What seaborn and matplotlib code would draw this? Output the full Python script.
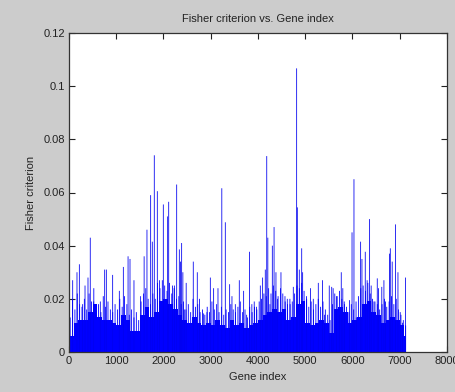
import numpy as np
import matplotlib
matplotlib.use("Agg")
import matplotlib.pyplot as plt
import seaborn as sns
from matplotlib.ticker import FuncFormatter

# ---- data ----
n_genes = 7129

# solid lower envelope, one value per 100 genes
base_idx = list(range(0, 7200, 100))
base_val = [0.006, 0.011, 0.012, 0.012, 0.015, 0.018, 0.013, 0.012, 0.012, 0.011,
            0.010, 0.014, 0.012, 0.008, 0.008, 0.014, 0.017, 0.013, 0.015, 0.019,
            0.020, 0.018, 0.016, 0.014, 0.012, 0.011, 0.013, 0.011, 0.010, 0.011,
            0.010, 0.012, 0.010, 0.009, 0.012, 0.010, 0.011, 0.009, 0.010, 0.011,
            0.012, 0.014, 0.015, 0.016, 0.015, 0.016, 0.012, 0.013, 0.018, 0.019,
            0.011, 0.010, 0.011, 0.012, 0.011, 0.007, 0.016, 0.017, 0.015, 0.011,
            0.012, 0.013, 0.018, 0.019, 0.015, 0.014, 0.011, 0.012, 0.013, 0.012,
            0.010, 0.006]

# dense thin lines above the solid part, one value per 50 genes
mid_idx = list(range(25, 7129, 50))
mid_val = [0.013, 0.020, 0.016, 0.022, 0.018, 0.017, 0.020, 0.016, 0.022, 0.019,
           0.024, 0.017, 0.018, 0.015, 0.021, 0.017, 0.019, 0.016, 0.015, 0.018,
           0.016, 0.020, 0.017, 0.021, 0.018, 0.014, 0.016, 0.013, 0.015, 0.012,
           0.019, 0.022, 0.024, 0.020, 0.018, 0.022, 0.020, 0.026, 0.024, 0.027,
           0.025, 0.023, 0.026, 0.022, 0.024, 0.020, 0.021, 0.018, 0.019, 0.016,
           0.018, 0.015, 0.020, 0.017, 0.018, 0.015, 0.016, 0.014, 0.017, 0.015,
           0.019, 0.016, 0.018, 0.015, 0.017, 0.014, 0.016, 0.015, 0.018, 0.016,
           0.015, 0.017, 0.019, 0.015, 0.016, 0.013, 0.017, 0.015, 0.017, 0.016,
           0.019, 0.020, 0.022, 0.021, 0.024, 0.022, 0.025, 0.023, 0.021, 0.024,
           0.022, 0.019, 0.018, 0.020, 0.019, 0.022, 0.025, 0.024, 0.026, 0.023,
           0.021, 0.017, 0.019, 0.016, 0.018, 0.020, 0.017, 0.019, 0.016, 0.014,
           0.012, 0.018, 0.022, 0.021, 0.023, 0.020, 0.019, 0.017, 0.015, 0.018,
           0.016, 0.019, 0.021, 0.024, 0.025, 0.023, 0.026, 0.022, 0.020, 0.019,
           0.018, 0.016, 0.018, 0.020, 0.017, 0.019, 0.021, 0.018, 0.020, 0.016,
           0.014, 0.012, 0.010]

# individual tall spikes
spike_idx = [78, 169, 219, 289, 339, 402, 450, 522, 663, 755, 790, 924, 1065, 1150,
             1250, 1291, 1375, 1516, 1590, 1650, 1728, 1763, 1805, 1869, 1917, 1996,
             2088, 2110, 2190, 2230, 2279, 2335, 2360, 2384, 2410, 2440, 2480, 2630,
             2715, 2760, 2850, 2920, 2991, 3061, 3153, 3234, 3308, 3400, 3449, 3520,
             3604, 3696, 3760, 3820, 3870, 3920, 3970, 4049, 4098, 4154, 4185, 4208,
             4253, 4303, 4340, 4380, 4410, 4486, 4571, 4620, 4680, 4747, 4818, 4832,
             4874, 4925, 4945, 5030, 5113, 5170, 5276, 5367, 5410, 5508, 5560, 5590,
             5664, 5720, 5762, 5795, 5830, 5939, 5990, 6031, 6080, 6172, 6200, 6270,
             6310, 6362, 6395, 6454, 6524, 6550, 6620, 6665, 6700, 6785, 6800, 6840,
             6912, 6962, 7010, 7060, 7120]
spike_val = [0.027, 0.030, 0.033, 0.018, 0.025, 0.028, 0.043, 0.019, 0.019, 0.031,
             0.031, 0.029, 0.023, 0.032, 0.036, 0.035, 0.027, 0.021, 0.036, 0.046,
             0.059, 0.0415, 0.074, 0.0605, 0.027, 0.0555, 0.051, 0.0565, 0.025, 0.025,
             0.063, 0.0386, 0.034, 0.041, 0.030, 0.016, 0.026, 0.034, 0.030, 0.020,
             0.0145, 0.015, 0.028, 0.024, 0.024, 0.0616, 0.0488, 0.0255, 0.021, 0.018,
             0.027, 0.023, 0.014, 0.0377, 0.018, 0.019, 0.017, 0.025, 0.028, 0.031,
             0.0737, 0.043, 0.018, 0.040, 0.047, 0.030, 0.020, 0.030, 0.021, 0.020,
             0.018, 0.0245, 0.1067, 0.0544, 0.031, 0.039, 0.030, 0.020, 0.024, 0.020,
             0.026, 0.027, 0.014, 0.025, 0.0245, 0.024, 0.021, 0.014, 0.030, 0.024,
             0.018, 0.0195, 0.045, 0.065, 0.013, 0.0415, 0.035, 0.0377, 0.027, 0.050,
             0.025, 0.019, 0.0277, 0.024, 0.0245, 0.027, 0.019, 0.037, 0.039, 0.034,
             0.048, 0.030, 0.015, 0.011, 0.028]

xticks = [0, 1000, 2000, 3000, 4000, 5000, 6000, 7000, 8000]
yticks = [0, 0.02, 0.04, 0.06, 0.08, 0.1, 0.12]
title = "Fisher criterion vs. Gene index"
xlabel = "Gene index"
ylabel = "Fisher criterion"

# ---- style ----
sns.set_style("ticks")
plt.rcParams['font.family'] = ['Liberation Sans', 'DejaVu Sans']
fs = 8

fig = plt.figure(figsize=(4.56, 3.92), dpi=100, facecolor='#cccccc')
ax = fig.add_axes([69/456, 1-352/392, (447-69)/456, (352-33)/392])
ax.set_facecolor('white')

base_w = np.diff(np.append(np.array(base_idx, dtype=float), n_genes))
ax.bar(base_idx, base_val, width=base_w, align='edge', color='#0000ff', linewidth=0)
ax.bar(mid_idx, mid_val, width=18, color='#0000ff', linewidth=0, align='center', snap=False)
ax.bar(spike_idx, spike_val, width=17, color='#0000f0', linewidth=0, align='center', snap=False)

ax.set_xlim(0, 8000)
ax.set_ylim(0, 0.12)
ax.set_xticks(xticks)
ax.set_yticks(yticks)
fmt = FuncFormatter(lambda v, p: "%g" % v)
ax.xaxis.set_major_formatter(fmt)
ax.yaxis.set_major_formatter(fmt)
ax.tick_params(direction='in', length=4, width=0.8, top=True, right=True,
               labelsize=fs, colors='#222222', labelcolor='#222222', pad=3)
for s in ax.spines.values():
    s.set_visible(True)
    s.set_color('#333333')
    s.set_linewidth(0.9)

ax.set_title(title, fontsize=fs, color='#222222', pad=8)
ax.set_xlabel(xlabel, fontsize=fs, color='#222222', labelpad=4)
ax.set_ylabel(ylabel, fontsize=fs, color='#222222', labelpad=5)

fig.savefig("out.png", dpi=100, facecolor=fig.get_facecolor())
